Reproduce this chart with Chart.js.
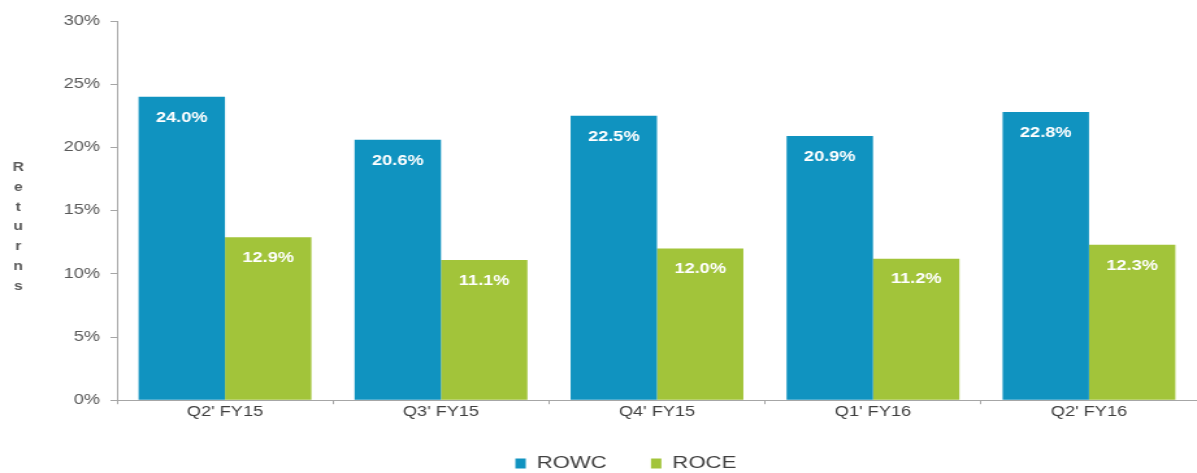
<!DOCTYPE html>
<html>
<head>
<meta charset="utf-8">
<script src="https://cdn.jsdelivr.net/npm/chart.js@4/dist/chart.umd.min.js"></script>
<style>
html,body{margin:0;padding:0;background:#fff;overflow:hidden;}
#wrap{width:921px;height:473px;position:relative;transform:scaleX(1.29967);transform-origin:0 0;}
</style>
</head>
<body>
<div id="wrap"><canvas id="c" width="921" height="473"></canvas></div>
<script>
const categories = ["Q2' FY15", "Q3' FY15", "Q4' FY15", "Q1' FY16", "Q2' FY16"];
const rowc = [24.0, 20.6, 22.5, 20.9, 22.8];
const roce = [12.9, 11.1, 12.0, 11.2, 12.3];
const seriesNames = ["ROWC", "ROCE"];
const yTitle = "Returns";

const FONT = "'Liberation Sans', Arial, sans-serif";

const barLabels = {
  id: 'barLabels',
  afterDatasetsDraw(chart) {
    const ctx = chart.ctx;
    ctx.save();
    ctx.font = "bold 14px " + FONT;
    ctx.fillStyle = "#ffffff";
    ctx.textAlign = "center";
    ctx.textBaseline = "middle";
    chart.data.datasets.forEach((ds, i) => {
      const meta = chart.getDatasetMeta(i);
      meta.data.forEach((bar, j) => {
        ctx.fillText(ds.data[j].toFixed(1) + "%", bar.x, bar.y + 21);
      });
    });
    ctx.restore();
  }
};

const yTitlePlugin = {
  id: 'yTitlePlugin',
  afterDraw(chart) {
    const ctx = chart.ctx;
    ctx.save();
    ctx.font = "bold 12px " + FONT;
    ctx.fillStyle = "#595959";
    ctx.textAlign = "center";
    ctx.textBaseline = "middle";
    yTitle.split("").forEach((ch, k) => ctx.fillText(ch, 14, 168 + k * 19.7));
    ctx.restore();
  }
};

new Chart(document.getElementById('c'), {
  type: 'bar',
  data: {
    labels: categories,
    datasets: [
      { label: seriesNames[0], data: rowc, backgroundColor: '#1093c0', categoryPercentage: 0.8, barPercentage: 1.0 },
      { label: seriesNames[1], data: roce, backgroundColor: '#a2c43a', categoryPercentage: 0.8, barPercentage: 1.0 }
    ]
  },
  options: {
    responsive: false,
    animation: false,
    devicePixelRatio: 1,
    layout: { padding: { left: 42, right: 0, top: 21, bottom: -9 } },
    plugins: {
      legend: {
        position: 'bottom',
        labels: {
          font: { family: FONT, size: 17 },
          color: '#404040',
          boxWidth: 8,
          boxHeight: 10,
          padding: 34
        }
      },
      tooltip: { enabled: false }
    },
    scales: {
      x: {
        grid: { display: true, drawOnChartArea: false, drawTicks: true, tickLength: 4, color: '#a6a6a6', offset: true },
        border: { color: '#a6a6a6', width: 1 },
        ticks: { color: '#404040', font: { family: FONT, size: 14 }, padding: 0 }
      },
      y: {
        min: 0, max: 30,
        afterFit(scale) { scale.width = 48; },
        grid: { display: true, drawOnChartArea: false, drawTicks: true, tickLength: 5, color: '#a6a6a6' },
        border: { color: '#a6a6a6', width: 1 },
        ticks: {
          stepSize: 5,
          color: '#595959',
          font: { family: FONT, size: 14 },
          padding: 8,
          callback: v => v + '%'
        }
      }
    }
  },
  plugins: [barLabels, yTitlePlugin]
});
</script>
</body>
</html>
